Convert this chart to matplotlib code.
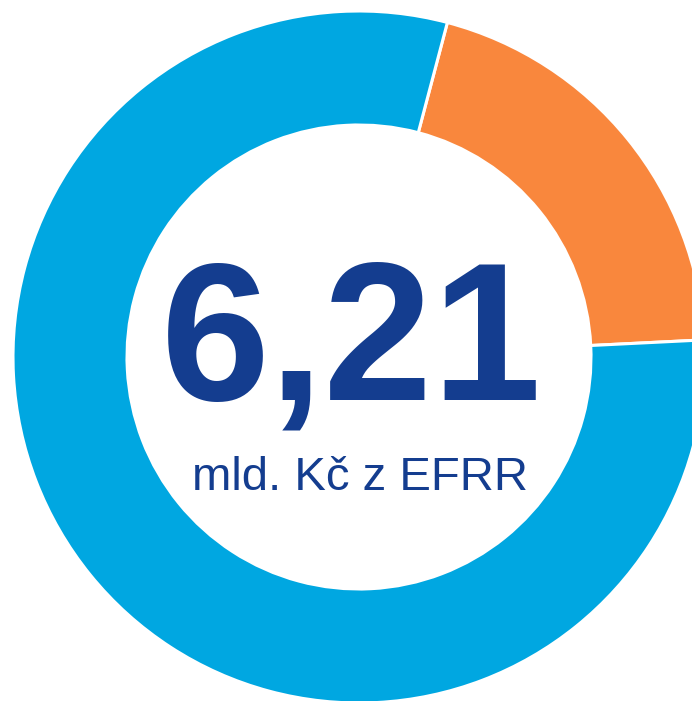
import matplotlib
matplotlib.use("Agg")
import matplotlib.pyplot as plt

# podíl (v %) - oranžová výseč a zbytek
labels = ["část", "zbytek"]
shares = [20.1, 79.9]
colors = ["#F9873D", "#00A7E1"]

total_text = "6,21"
unit_text = "mld. Kč z EFRR"
text_color = "#143D8F"

W, H = 692, 701
fig = plt.figure(figsize=(W / 100, H / 100), dpi=100)
ax = fig.add_axes([0, 0, 1, 1])

cx, cy = 359, H - 357
R = 346
ax.pie(shares, colors=colors, startangle=75.2, counterclock=False,
       center=(cx, cy), radius=R, frame=True,
       wedgeprops=dict(width=R - 232, edgecolor="white", linewidth=2.2))
ax.set_xlim(0, W)
ax.set_ylim(0, H)
ax.set_aspect("equal")
ax.axis("off")

ax.text(352, H - 400, total_text, ha="center", va="baseline",
        fontsize=141, fontweight="bold", color=text_color,
        family="Liberation Sans")
ax.text(360, H - 490, unit_text, ha="center", va="baseline",
        fontsize=34, color=text_color, family="Liberation Sans")

fig.savefig("out.png", dpi=100)
